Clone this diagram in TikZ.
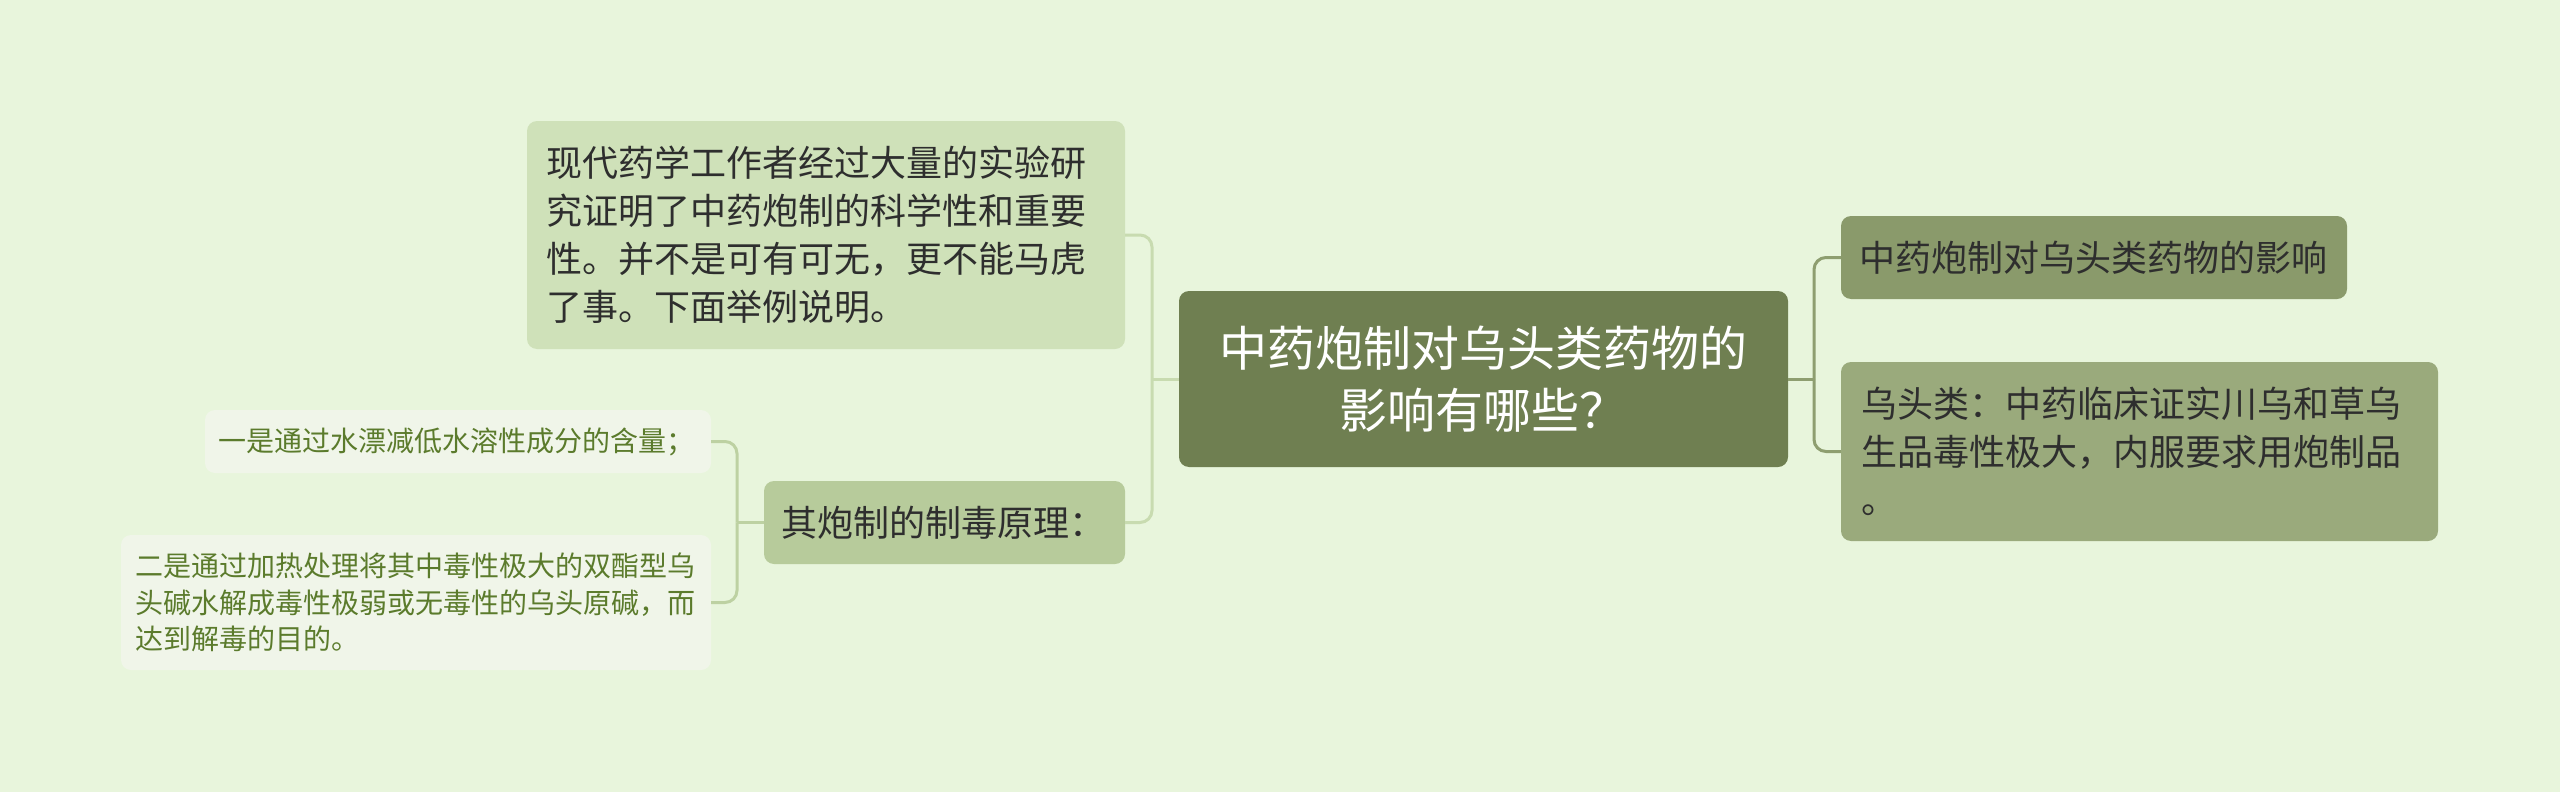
\documentclass[tikz,border=0pt]{standalone}
\usepackage{fontspec}
\setmainfont{Noto Sans CJK SC}
\definecolor{bgc}{HTML}{E8F5DC}
\definecolor{cmain}{HTML}{6F7F51}
\definecolor{cr1}{HTML}{8A9A6B}
\definecolor{cr2}{HTML}{9AAA7C}
\definecolor{ctl}{HTML}{CFE1B9}
\definecolor{cmid}{HTML}{B7CB9B}
\definecolor{cleaf}{HTML}{F0F5E9}
\definecolor{leaftxt}{HTML}{5B7B2C}
\definecolor{txtdark}{HTML}{2E2E2E}
\definecolor{connl}{HTML}{C8DBB0}
\definecolor{connm}{HTML}{BDD1A2}
\definecolor{connr}{HTML}{8E9E70}
\begin{document}
\begin{tikzpicture}[x=1pt,y=-1pt,
  box/.style={rounded corners=10pt, inner ysep=0pt, anchor=center, align=left, text=txtdark},
  big/.style={font=\fontsize{48}{62}\selectfont},
  mtxt/.style={font=\fontsize{36}{48}\selectfont},
  stxt/.style={font=\fontsize{28}{36.5}\selectfont},
  connL/.style={draw=connl, line width=3pt},
  connM/.style={draw=connm, line width=3pt},
  connR/.style={draw=connr, line width=3pt},
  elbow/.style={rounded corners=12pt}]
\fill[bgc] (0,0) rectangle (2560,792);
\useasboundingbox (0,0) rectangle (2560,792);

% nodes
\node[box, big, fill=cmain, text=white, align=center, inner xsep=20pt, text width=569pt, minimum height=176pt] (c) at (1483.5,379) {中药炮制对乌头类药物的\\影响有哪些？};
\node[box, mtxt, fill=cr1, inner xsep=18pt, text width=470pt, minimum height=83pt] (r1) at (2094,257.5) {中药炮制对乌头类药物的影响};
\node[box, mtxt, fill=cr2, inner xsep=20pt, text width=557pt, minimum height=179pt] (r2) at (2139.5,451.5) {乌头类：中药临床证实川乌和草乌\\生品毒性极大，内服要求用炮制品\\。};
\node[box, mtxt, fill=ctl, inner xsep=19pt, text width=560pt, minimum height=228pt] (tl) at (826,235) {现代药学工作者经过大量的实验研\\究证明了中药炮制的科学性和重要\\性。并不是可有可无，更不能马虎\\了事。下面举例说明。};
\node[box, mtxt, fill=cmid, inner xsep=17pt, text width=327pt, minimum height=83pt] (mid) at (944.5,522.5) {其炮制的制毒原理：};
\node[box, stxt, fill=cleaf, text=leaftxt, inner xsep=13pt, text width=480pt, minimum height=63pt] (l1) at (458,441.5) {一是通过水漂减低水溶性成分的含量；};
\node[box, stxt, fill=cleaf, text=leaftxt, inner xsep=14pt, text width=562pt, minimum height=135pt] (l2) at (416,602.5) {二是通过加热处理将其中毒性极大的双酯型乌\\头碱水解成毒性极弱或无毒性的乌头原碱，而\\达到解毒的目的。};

% junctions
\coordinate (jl) at (1152,379);
\coordinate (jr) at (1814,379);
\coordinate (jm) at (737,522.5);

% connectors
\draw[connL] (c.west) -- (jl);
\draw[connL, elbow] (jl) |- (tl.east);
\draw[connL, elbow] (jl) |- (mid.east);
\draw[connR] (c.east) -- (jr);
\draw[connR, elbow] (jr) |- (r1.west);
\draw[connR, elbow] (jr) |- (r2.west);
\draw[connM] (mid.west) -- (jm);
\draw[connM, elbow] (jm) |- (l1.east);
\draw[connM, elbow] (jm) |- (l2.east);
\end{tikzpicture}
\end{document}
